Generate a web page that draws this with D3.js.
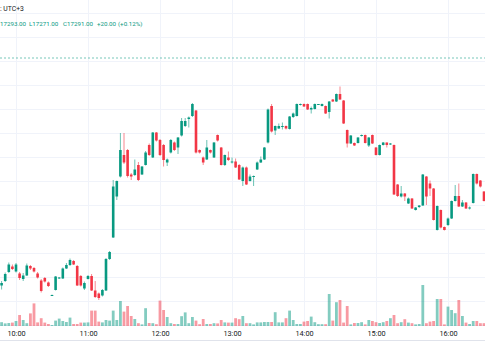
<!DOCTYPE html>
<html><head><meta charset="utf-8">
<script src="https://cdn.jsdelivr.net/npm/d3@7"></script>
<style>html,body{margin:0;padding:0;background:#fff;overflow:hidden}svg{display:block}</style>
</head><body><svg id="c" width="485" height="360"></svg>
<script>
// 3-minute bars, first bar 09:48
const firstBar = "2024-01-02T09:48:00";
const barMinutes = 3;
const opens = [
17188.5,17193,17202,17207.5,17202.5,17200.5,17195,17198.5,17208,17206,17200.5,17193.5,17196,17191.5,17178.5,
17184,17195.5,17195.5,17205.5,17209,17213,17208,17198,17185.5,17195,17198,17183.5,17180.5,17178.5,17183.5,
17215,17236.5,17277.5,17297.5,17319,17324,17299.5,17299,17309,17299.5,17309,17329,17316.5,17341.5,17334,
17329,17311.5,17321.5,17331.5,17326.5,17338.5,17348,17355,17358,17363.5,17324,17316.5,17314.5,17324,17316.5,
17339,17326.5,17309,17316.5,17312,17312.5,17309,17293,17306.5,17293,17297.5,17304.5,17311.5,17314.5,17331.5,
17368,17343.5,17345.5,17347,17348,17345,17357,17358,17369.5,17370,17370,17364.5,17365,17369.5,17368,
17368,17362,17374.5,17372.5,17380,17373.5,17344,17330.5,17331,17331,17338,17339,17328.5,17339,17326.5,
17319,17329,17331.5,17329.5,17329,17289.5,17277.5,17280.5,17270.5,17275.5,17264,17267,17268.5,17297.5,17290.5,
17285.5,17244,17264,17247,17249,17255.5,17273,17278,17267.5,17271.5,17265.5,17271,17300,17293.5,17282.5];
const highs = [
17193,17201.5,17211.5,17209.5,17211,17202,17201,17210.5,17209,17207,17202,17195,17197,17192.5,17179.5,
17198,17197,17206.5,17211,17215.5,17214,17209,17199,17192.5,17199,17200,17193,17181.5,17185,17216,
17223,17294,17293.5,17341,17341,17325,17301,17314.5,17312,17308,17323,17330.5,17342,17342,17335,
17330,17315.5,17335,17332.5,17337,17356,17356,17357.5,17371,17364,17324.5,17317.5,17334,17324.5,17332,
17339.5,17327,17319.5,17322.5,17316.5,17315.5,17310,17307.5,17307.5,17299.5,17298.5,17312.5,17317.5,17327,17365.5,
17370,17348.5,17350.5,17351.5,17348.5,17358,17361.5,17370.5,17370.5,17370.5,17370.5,17367.5,17370.5,17370,17370.5,
17368.5,17373,17375,17380.5,17387.5,17374,17344.5,17339,17331.5,17337,17339.5,17339.5,17337,17339.5,17327,
17329.5,17332,17331.5,17331,17329.5,17290,17288,17281,17276.5,17276,17267,17269,17300,17298,17293.5,
17286,17268.5,17264.5,17247.5,17256.5,17273.5,17289,17290.5,17274,17272,17267.5,17300.5,17300.5,17294,17283];
const lows = [
17184.5,17192,17201,17204,17201.5,17194,17193,17198,17204,17201.5,17195.5,17181.5,17191.5,17187,17178,
17183.5,17195,17195,17205,17208,17209,17188,17187.5,17184,17194.5,17183,17176,17174,17177.5,17183,
17214,17236,17274,17296.5,17310,17296.5,17294,17298,17293,17299,17308.5,17318,17316,17332.5,17318,
17307.5,17308,17320.5,17323,17320,17337.5,17347,17346.5,17357,17320.5,17320.5,17309,17314,17320.5,17316,
17332.5,17308.5,17308,17313,17310.5,17306,17294,17288,17289,17292.5,17288,17304,17311,17314,17330.5,
17341.5,17339,17345,17344.5,17344.5,17344.5,17356,17357.5,17368.5,17367,17364,17360.5,17364.5,17369,17367.5,
17360,17355.5,17372,17372,17374,17350,17326.5,17330,17328,17330.5,17337.5,17330.5,17327,17330,17318.5,
17318.5,17328.5,17326.5,17329,17279,17277,17276.5,17273,17270,17265,17263.5,17266,17268,17269,17278,
17253.5,17243.5,17245.5,17243.5,17248,17255,17272.5,17267,17267,17265,17264.5,17270.5,17289.5,17286.5,17272.5];
const closes = [
17191,17200,17209.5,17205,17209.5,17196,17198.5,17208.5,17205.5,17202.5,17196.5,17183,17192.5,17188,17179,
17197.5,17196.5,17205.5,17209,17214,17209.5,17188.5,17188.5,17191,17198,17183.5,17177,17176,17184,17215,
17222,17287.5,17293,17324,17311.5,17298,17297.5,17304.5,17294,17307.5,17321.5,17319,17341.5,17333.5,17319,
17314,17314.5,17334,17324,17336.5,17353,17353,17356.5,17370,17321.5,17321.5,17311.5,17326.5,17321.5,17331.5,
17333.5,17309,17319,17314,17312.5,17306.5,17294.5,17306.5,17289.5,17297.5,17298,17311.5,17314.5,17326.5,17364.5,
17342.5,17348,17348,17348,17345.5,17357.5,17360.5,17370,17370,17367.5,17364.5,17366,17370,17370,17370,
17360.5,17372.5,17372.5,17380,17374.5,17350.5,17330.5,17338.5,17328.5,17336.5,17339,17331,17336.5,17330.5,17319,
17329,17331.5,17329,17330.5,17279.5,17278,17280.5,17277.5,17275.5,17265.5,17266.5,17268.5,17299.5,17277.5,17285.5,
17254,17268,17246.5,17244,17255.5,17273,17278,17267.5,17271.5,17265.5,17266.5,17300,17290.5,17287.5,17273];
const volumes = [
190,130,150,170,250,550,300,140,630,1130,180,390,170,100,50,
270,370,250,200,420,100,100,170,170,180,770,770,220,180,300,
270,770,300,1250,720,1000,500,350,140,80,890,150,140,90,1270,
800,450,140,100,100,490,680,140,450,270,90,350,100,100,140,
130,300,180,170,170,390,340,500,140,140,80,180,180,200,200,
200,690,180,180,390,770,300,100,100,220,250,470,190,90,90,
90,1600,270,1190,1300,170,1000,80,150,150,190,80,300,250,190,
150,190,250,390,550,140,190,340,170,140,80,100,2050,140,220,
250,1350,1350,80,970,800,640,1300,500,170,100,250,250,140,140];
const priceGridTicks = [17460.5,17436.5,17412.5,17388.5,17364.5,17340.5,17316.5,17292.5,17268.5,17244.5,17220.5,17196.5,17172.5,17148.5];
const timeTicks = ["10:00","11:00","12:00","13:00","14:00","15:00","16:00"];
const refLine = 17416;
const headerTz = ": UTC+3";
const headerVals = ["17293.00","L17271.00","C17291.00","+20.00","(+0.12%)"];

const W = 485, H = 360;
const UP = "#089981", DOWN = "#f23645";
const UPV = "rgba(8,153,129,0.5)", DOWNV = "rgba(242,54,69,0.5)";
const svg = d3.select("#c");
const day = "2024-01-02T";
const t0 = new Date(firstBar);
const data = opens.map((o,i)=>({t:d3.timeMinute.offset(t0,i*barMinutes),o,h:highs[i],l:lows[i],c:closes[i],v:volumes[i]}));

const x = d3.scaleTime().domain([new Date(day+"09:46:40"), new Date(day+"16:30:50")]).range([0, W]);
const y = d3.scaleLinear().domain([17147, 17474]).range([327, 0]);
const yv = d3.scaleLinear().domain([0, 2100]).range([326, 284]);
const bw = 2.6, vw = 2.8;

// grid
const tickDates = timeTicks.map(s=>new Date(day+s+":00"));
svg.append("g").selectAll("line").data(priceGridTicks).join("line")
  .attr("x1",0).attr("x2",W).attr("y1",d=>y(d)).attr("y2",d=>y(d))
  .attr("stroke","#f0f3fa").attr("stroke-width",1);
svg.append("g").selectAll("line").data(tickDates).join("line")
  .attr("x1",d=>Math.round(x(d))+0.5).attr("x2",d=>Math.round(x(d))+0.5).attr("y1",0).attr("y2",327)
  .attr("stroke","#f0f3fa").attr("stroke-width",1);

// reference dashed line
svg.append("line").attr("x1",0).attr("x2",W).attr("y1",y(refLine)).attr("y2",y(refLine))
  .attr("stroke","#089981").attr("stroke-opacity",0.55).attr("stroke-width",1).attr("stroke-dasharray","2,2");

// volume
svg.append("g").selectAll("rect").data(data).join("rect")
  .attr("x",d=>x(d.t)-vw/2).attr("width",vw)
  .attr("y",d=>yv(d.v)).attr("height",d=>yv(0)-yv(d.v))
  .attr("fill",d=>d.c>=d.o?UPV:DOWNV);

// candles
const g = svg.append("g");
g.selectAll("line").data(data).join("line")
  .attr("x1",d=>x(d.t)).attr("x2",d=>x(d.t)).attr("y1",d=>y(d.h)).attr("y2",d=>y(d.l))
  .attr("stroke",d=>d.c>=d.o?UP:DOWN).attr("stroke-opacity",0.6).attr("stroke-width",1);
g.selectAll("rect").data(data).join("rect")
  .attr("x",d=>x(d.t)-bw/2).attr("width",bw)
  .attr("y",d=>y(Math.max(d.o,d.c)))
  .attr("height",d=>Math.max(1,Math.abs(y(d.o)-y(d.c))))
  .attr("fill",d=>d.c>=d.o?UP:DOWN);

// time axis
const ax = svg.append("g").attr("transform","translate(0,327)")
  .call(d3.axisBottom(x).tickValues(tickDates).tickFormat(d3.timeFormat("%H:%M")).tickSize(0).tickPadding(3.4));
ax.select(".domain").remove();
ax.selectAll("text").attr("fill","#131722").style("font-family","Roboto, 'DejaVu Sans', sans-serif").style("font-size","7.3px");
svg.append("line").attr("x1",0).attr("x2",W).attr("y1",340.5).attr("y2",340.5).attr("stroke","#e0e3eb");

// header
svg.append("text").attr("x",0).attr("y",11).text(headerTz)
  .attr("fill","#131722").style("font-family","Roboto, sans-serif").style("font-size","6.8px");
const hx = [0, 29, 63, 97, 118];
headerVals.forEach((s,i)=>{
  svg.append("text").attr("x",hx[i]).attr("y",26).text(s)
    .attr("fill","#089981").style("font-family","Roboto, sans-serif").style("font-size","6.2px");
});
</script></body></html>
